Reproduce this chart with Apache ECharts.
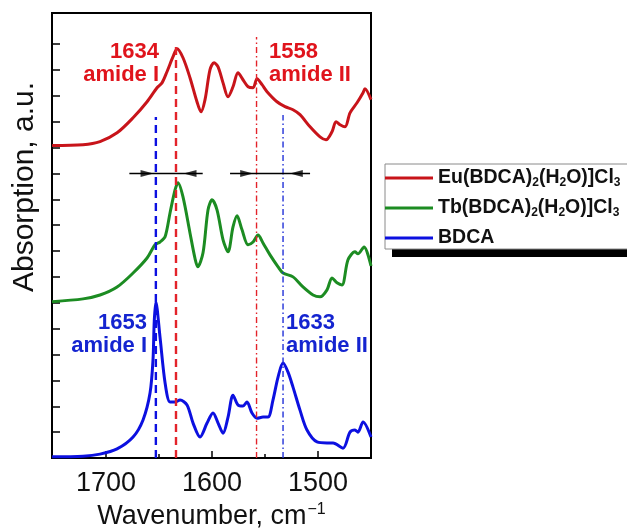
<!DOCTYPE html>
<html>
<head>
<meta charset="utf-8">
<script src="https://cdn.jsdelivr.net/npm/echarts@6/dist/echarts.min.js"></script>
<style>
  html, body { margin: 0; padding: 0; background: #fff; }
  #chart { width: 627px; height: 528px; }
</style>
</head>
<body>
<div id="chart"></div>
<script>
// FTIR spectra, amide region: [wavenumber (cm-1), absorption (a.u., stacked offsets)]
const euSpectrum = [
  [1750.9, 12.08], [1721.7, 12.11], [1705.7, 12.23], [1689.6, 12.57], [1674.5, 13.15],
  [1661.3, 13.77], [1651.9, 14.31], [1647.2, 14.50], [1642.5, 14.93], [1636.8, 15.51],
  [1633.0, 15.82], [1627.4, 15.47], [1620.8, 14.70], [1614.2, 13.77], [1610.4, 13.38],
  [1606.6, 13.85], [1601.9, 15.01], [1598.1, 15.28], [1594.3, 15.12], [1589.6, 14.50],
  [1584.9, 13.96], [1580.2, 14.35], [1575.5, 14.89], [1570.8, 14.62], [1566.0, 14.35],
  [1561.3, 14.31], [1557.5, 14.66], [1552.8, 14.43], [1548.1, 14.16], [1538.7, 13.77],
  [1531.1, 13.58], [1523.6, 13.46], [1517.0, 13.27], [1507.5, 12.80], [1498.1, 12.41],
  [1492.5, 12.30], [1486.8, 12.61], [1483.0, 13.00], [1479.2, 12.88], [1474.5, 12.80],
  [1469.8, 13.34], [1463.2, 13.73], [1457.5, 14.12], [1455.7, 14.27], [1450.0, 13.85]
];
const tbSpectrum = [
  [1750.9, 6.04], [1721.7, 6.15], [1705.7, 6.30], [1689.6, 6.61], [1674.5, 7.15],
  [1661.3, 7.73], [1653.8, 8.24], [1649.1, 8.35], [1644.3, 8.55], [1639.6, 9.48],
  [1634.9, 10.36], [1632.1, 10.64], [1627.4, 10.09], [1620.8, 8.70], [1616.0, 7.70],
  [1613.5, 7.39], [1608.5, 7.93], [1603.8, 9.59], [1600.0, 9.98], [1595.3, 9.59],
  [1589.6, 8.43], [1584.9, 7.97], [1580.2, 8.93], [1576.4, 9.36], [1571.7, 8.82],
  [1566.0, 8.24], [1561.3, 8.35], [1556.6, 8.62], [1551.9, 8.31], [1545.3, 7.85],
  [1537.7, 7.39], [1533.0, 7.15], [1523.6, 7.00], [1514.2, 6.61], [1504.7, 6.30],
  [1498.1, 6.23], [1491.5, 6.50], [1486.8, 6.96], [1482.1, 6.77], [1477.4, 6.69],
  [1471.7, 7.66], [1465.1, 7.97], [1462.3, 7.89], [1456.6, 8.16], [1450.0, 7.42]
];
const bdcaSpectrum = [
  [1750.9, 0.05], [1721.7, 0.07], [1705.7, 0.15], [1689.6, 0.35], [1674.5, 0.81],
  [1665.1, 1.47], [1658.5, 2.51], [1655.7, 3.79], [1654.5, 5.30], [1653.0, 6.03],
  [1649.1, 4.68], [1644.3, 2.90], [1639.6, 2.16], [1634.9, 2.16], [1630.2, 2.24],
  [1623.6, 2.05], [1617.9, 1.35], [1611.3, 0.81], [1604.7, 1.35], [1599.1, 1.74],
  [1594.3, 1.35], [1589.6, 0.96], [1584.9, 1.58], [1580.2, 2.43], [1575.5, 2.05],
  [1570.8, 2.01], [1567.0, 2.16], [1562.3, 1.74], [1557.5, 1.54], [1551.9, 1.58],
  [1547.2, 1.58], [1542.5, 2.24], [1537.7, 3.13], [1533.0, 3.67], [1528.3, 3.32],
  [1523.6, 2.74], [1517.0, 1.85], [1510.4, 1.08], [1500.9, 0.62], [1491.5, 0.58],
  [1485.8, 0.58], [1476.4, 0.38], [1469.8, 1.00], [1465.1, 1.08], [1462.3, 1.00],
  [1457.5, 1.39], [1450.0, 0.81]
];
const seriesNames = ['Eu(BDCA)2(H2O)]Cl3', 'Tb(BDCA)2(H2O)]Cl3', 'BDCA'];

// axis ticks
const xTicks = [1500, 1600, 1700];
const xMinorTicks = [1550, 1650];
const yTicks = [1, 2, 3, 4, 5, 6, 7, 8, 9, 10, 11, 12, 13, 14, 15, 16];

// amide bands: guide-line wavenumber, how high the guide reaches, printed number
const bandWn = [1653, 1634, 1558, 1533];
const bandTop = [13.18, 16.04, 16.27, 13.26];
const bandNumber = ['1653', '1634', '1558', '1633'];
const bandName = ['amide I', 'amide I', 'amide II', 'amide II'];
const bandLabelAt = [[1661.3, 4.77], [1650.0, 15.25], [1546.2, 15.25], [1530.2, 4.77]];

// shift brackets between free ligand and complex bands
const shiftLevel = 11.0;
const shiftSpans = [[1678.0, 1608.8], [1583.0, 1507.5]];
const arrowHeadAt = [1661.3, 1620.8, 1567.3, 1520.5];
const arrowPointsRight = [true, false, true, false];

const FONT = '"Liberation Sans", Arial, sans-serif';
const RED = '#c8141a', GREEN = '#1c8c22', BLUE = '#0c10e0';
const RED_TXT = '#e0141c', BLUE_TXT = '#1424d0';

const chart = echarts.init(document.getElementById('chart'), null, { renderer: 'canvas' });

const series = [];
const specColors = [RED, GREEN, BLUE];
[euSpectrum, tbSpectrum, bdcaSpectrum].forEach((d, i) => {
  series.push({
    name: seriesNames[i], type: 'line', data: d, smooth: 0.3,
    showSymbol: false, symbol: 'none', silent: true,
    lineStyle: { color: specColors[i], width: 3 },
    itemStyle: { color: specColors[i] }, z: 2
  });
});

// vertical guides: blue dashed (BDCA amide I), red dashed (complex amide I),
// red dash-dot (complex amide II), blue dash-dot (BDCA amide II)
const guideStyle = [
  { color: BLUE, width: 2.4, type: [8, 5] },
  { color: '#e3232a', width: 2.4, type: [8, 5] },
  { color: '#e3232a', width: 1.4, type: [6, 3, 1.5, 3] },
  { color: '#2030d8', width: 1.4, type: [6, 3, 1.5, 3] }
];
bandWn.forEach((wn, i) => {
  series.push({
    type: 'line', data: [[wn, 0], [wn, bandTop[i]]], symbol: 'none', silent: true,
    lineStyle: guideStyle[i], z: 4
  });
});

shiftSpans.forEach(s => {
  series.push({
    type: 'line', data: [[s[0], shiftLevel], [s[1], shiftLevel]], symbol: 'none', silent: true,
    lineStyle: { color: '#000', width: 1.5 }, z: 5
  });
});

series.push({
  type: 'scatter', silent: true, z: 6,
  symbol: 'triangle', symbolSize: [7, 13],
  data: arrowHeadAt.map((wn, i) => ({
    value: [wn, shiftLevel],
    symbolRotate: arrowPointsRight[i] ? -90 : 90
  })),
  itemStyle: { color: '#000' }
});

const bandColor = [BLUE_TXT, RED_TXT, RED_TXT, BLUE_TXT];
const bandSide = ['left', 'left', 'right', 'right'];
series.push({
  type: 'scatter', silent: true, z: 7, symbolSize: 0,
  itemStyle: { opacity: 1 },
  data: bandLabelAt.map((p, i) => ({
    value: p,
    label: {
      show: true, position: bandSide[i], distance: 0, opacity: 1,
      align: bandSide[i] === 'left' ? 'right' : 'left',
      formatter: '{n|' + bandNumber[i] + '}\n{t|' + bandName[i] + '}',
      rich: {
        n: { fontFamily: FONT, fontSize: 22, fontWeight: 'bold', color: bandColor[i], lineHeight: 23 },
        t: { fontFamily: FONT, fontSize: 22, fontWeight: 'bold', color: bandColor[i], lineHeight: 23 }
      }
    }
  }))
});

const legendRich = {
  m: { fontFamily: FONT, fontSize: 19.5, fontWeight: 'bold', color: '#111', lineHeight: 22 },
  s: { fontFamily: FONT, fontSize: 12, fontWeight: 'bold', color: '#111', lineHeight: 22, verticalAlign: 'bottom', padding: [8, 0, 0, 0] }
};
function legendText(name) {
  return name.replace(/(\d)/g, '}{s|$1}{m|').replace(/^/, '{m|') + '}';
}

chart.setOption({
  animation: false,
  backgroundColor: '#fff',
  grid: {
    left: 52, right: 256, top: 13, bottom: 70, show: true, borderColor: '#000', borderWidth: 2,
    backgroundColor: 'transparent', containLabel: false, outerBoundsMode: 'none'
  },
  xAxis: [{
    type: 'value', min: 1450, max: 1751, inverse: true,
    axisLine: { show: true, lineStyle: { color: '#000', width: 2 } },
    axisTick: { show: true, inside: true, length: 7, customValues: xTicks, lineStyle: { color: '#000', width: 1.5 } },
    axisLabel: { show: true, customValues: xTicks, margin: 12, fontFamily: FONT, fontSize: 27, color: '#111', formatter: v => String(v) },
    splitLine: { show: false },
    name: '{a|Wavenumber, cm}{s|−1}', nameLocation: 'middle', nameGap: 34,
    nameTextStyle: {
      rich: {
        a: { fontFamily: FONT, fontSize: 27, color: '#111', lineHeight: 30 },
        s: { fontFamily: FONT, fontSize: 16, color: '#111', lineHeight: 30, verticalAlign: 'top', padding: [0, 0, 10, 1] }
      }
    }
  }, {
    type: 'value', min: 1450, max: 1751, inverse: true, position: 'bottom', offset: 0,
    axisLine: { show: false },
    axisTick: { show: true, inside: true, length: 4, customValues: xMinorTicks, lineStyle: { color: '#000', width: 1.5 } },
    axisLabel: { show: false }, splitLine: { show: false }
  }],
  yAxis: {
    type: 'value', min: 0, max: 17.2,
    axisLine: { show: true, lineStyle: { color: '#000', width: 2 } },
    axisTick: { show: true, inside: true, length: 8, customValues: yTicks, lineStyle: { color: '#000', width: 1.5 } },
    axisLabel: { show: false },
    splitLine: { show: false }
  },
  legend: {
    data: seriesNames, orient: 'vertical', left: 385, top: 168, padding: 0,
    icon: 'rect', itemWidth: 48, itemHeight: 3, itemGap: 9, z: 20,
    selectedMode: false,
    formatter: legendText,
    textStyle: { rich: legendRich }
  },
  graphic: [
    {
      type: 'rect', z: 9, silent: true,
      shape: { x: 392, y: 172, width: 270, height: 85 },
      style: { fill: '#000' }
    },
    {
      type: 'rect', z: 10, silent: true,
      shape: { x: 385, y: 164, width: 270, height: 85 },
      style: { fill: '#fff', stroke: '#8a8a8a', lineWidth: 1 }
    },
    {
      type: 'text', z: 10, silent: true, x: 25, y: 187, rotation: Math.PI / 2,
      style: { text: 'Absorption, a.u.', font: '30px ' + FONT, fill: '#111', align: 'center', verticalAlign: 'middle', textAlign: 'center', textVerticalAlign: 'middle' }
    }
  ],
  series: series
});
</script>
</body>
</html>
